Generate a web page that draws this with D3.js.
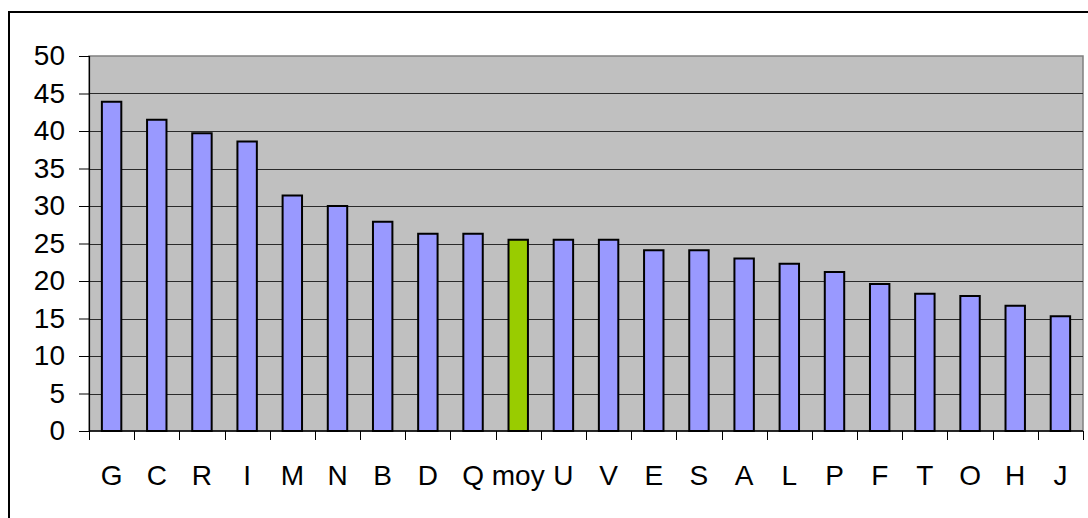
<!DOCTYPE html>
<html>
<head>
<meta charset="utf-8">
<script src="https://cdn.jsdelivr.net/npm/d3@7"></script>
<style>
  html, body { margin: 0; padding: 0; background: #fff; }
  svg { display: block; }
  text { font-family: "Liberation Sans", Arial, sans-serif; }
</style>
</head>
<body>
<svg id="chart" width="1088" height="518"></svg>
<script>
// Category labels in display order (sorted by value, "moy" = average)
const categories = ["G","C","R","I","M","N","B","D","Q","moy","U","V","E","S","A","L","P","F","T","O","H","J"];
const values = [43.9, 41.5, 39.7, 38.6, 31.4, 30.0, 27.9, 26.3, 26.3, 25.5, 25.5, 25.5, 24.1, 24.1, 23.0, 22.3, 21.2, 19.6, 18.3, 18.0, 16.7, 15.3];
const highlight = "moy";
const yTicks = [0, 5, 10, 15, 20, 25, 30, 35, 40, 45, 50];

const svg = d3.select("#chart");
const plot = { left: 89, right: 1083, top: 56, bottom: 431 };

// Outer chart frame (runs off the right and bottom edges)
svg.append("rect")
  .attr("x", 9).attr("y", 12)
  .attr("width", 1200).attr("height", 700)
  .attr("fill", "#fff")
  .attr("stroke", "#000").attr("stroke-width", 2);

const x = d3.scaleBand()
  .domain(categories)
  .range([plot.left, plot.right])
  .padding(0);

const y = d3.scaleLinear()
  .domain([0, 50])
  .range([plot.bottom, plot.top]);

// Plot area background
svg.append("rect")
  .attr("x", plot.left).attr("y", plot.top)
  .attr("width", plot.right - plot.left).attr("height", plot.bottom - plot.top)
  .attr("fill", "#C0C0C0")
  .attr("stroke", "#808080").attr("stroke-width", 1.5);

// Horizontal gridlines
svg.append("g")
  .selectAll("line")
  .data(yTicks.filter(d => d > 0 && d < 50))
  .join("line")
  .attr("x1", plot.left).attr("x2", plot.right)
  .attr("y1", d => Math.round(y(d)) + 0.5).attr("y2", d => Math.round(y(d)) + 0.5)
  .attr("stroke", "#2a2a2a").attr("stroke-width", 1);

// Bars
const barW = x.bandwidth() * 0.43;
svg.append("g")
  .selectAll("rect")
  .data(categories.map((c, i) => ({ c, v: values[i] })))
  .join("rect")
  .attr("x", d => x(d.c) + (x.bandwidth() - barW) / 2)
  .attr("y", d => y(d.v))
  .attr("width", barW)
  .attr("height", d => y(0) - y(d.v))
  .attr("fill", d => d.c === highlight ? "#99CC00" : "#9999FF")
  .attr("stroke", "#000").attr("stroke-width", 2);

// Y axis
const yAxis = svg.append("g")
  .attr("transform", `translate(${plot.left},0)`)
  .call(d3.axisLeft(y).tickValues(yTicks).tickSize(10).tickPadding(14).tickFormat(d3.format("d")));
yAxis.select(".domain").attr("stroke", "#000").attr("stroke-width", 1.2);
yAxis.selectAll(".tick line").attr("stroke", "#000");
yAxis.selectAll("text")
  .attr("font-size", 28)
  .attr("fill", "#000")
  .attr("font-family", "Liberation Sans, Arial, sans-serif");

// X axis: tick marks on band boundaries, labels centred on bands
const xg = svg.append("g");
xg.append("line")
  .attr("x1", plot.left).attr("x2", plot.right)
  .attr("y1", plot.bottom).attr("y2", plot.bottom)
  .attr("stroke", "#000").attr("stroke-width", 1.5);
const bounds = categories.map(c => x(c)).concat([x(categories[categories.length - 1]) + x.bandwidth()]);
xg.selectAll("line.tk")
  .data(bounds)
  .join("line")
  .attr("class", "tk")
  .attr("x1", d => Math.round(d) + 0.5).attr("x2", d => Math.round(d) + 0.5)
  .attr("y1", plot.bottom).attr("y2", plot.bottom + 9)
  .attr("stroke", "#000").attr("stroke-width", 1);
xg.selectAll("text")
  .data(categories)
  .join("text")
  .attr("x", d => x(d) + x.bandwidth() / 2)
  .attr("y", 485)
  .attr("text-anchor", "middle")
  .attr("font-size", 28)
  .attr("fill", "#000")
  .text(d => d);
</script>
</body>
</html>
